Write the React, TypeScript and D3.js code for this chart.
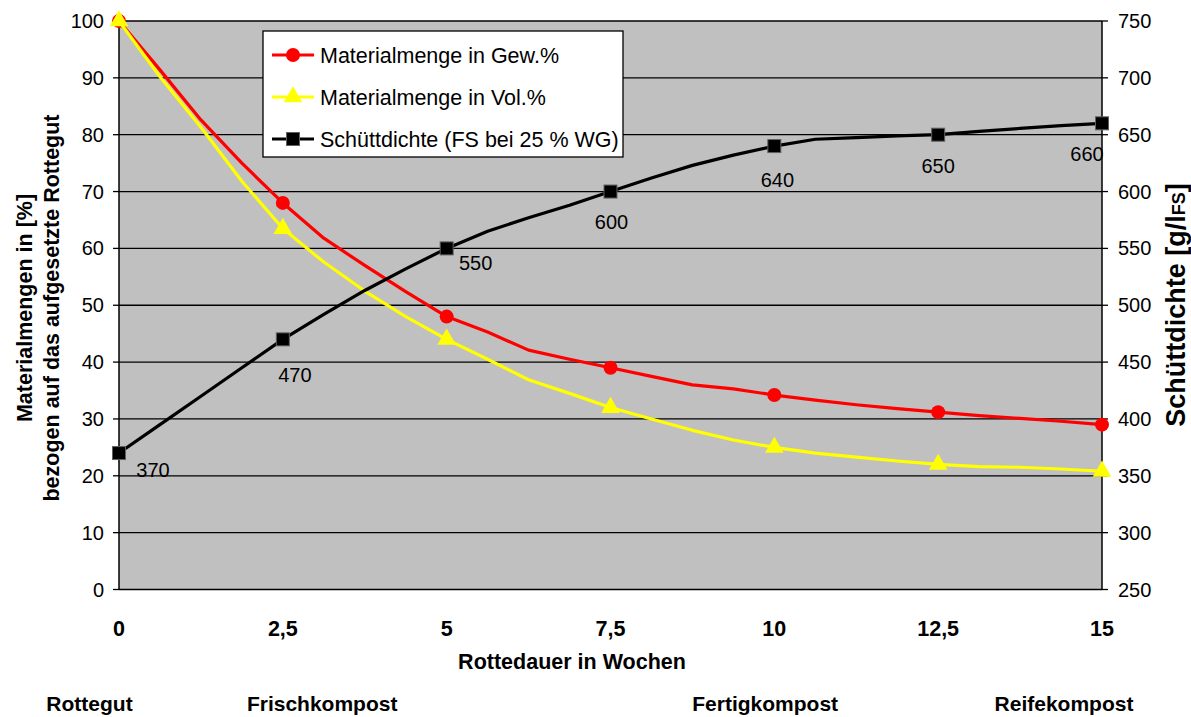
import React, { useEffect, useRef } from "react";
import * as d3 from "d3";

// Rotting time in weeks (measurement points)
const weeks = [0, 0.625, 1.25, 1.875, 2.5, 3.125, 3.75, 4.375, 5, 5.625, 6.25, 6.875, 7.5,
  8.125, 8.75, 9.375, 10, 10.625, 11.25, 11.875, 12.5, 13.125, 13.75, 14.375, 15];

// Material amount in weight-% of the initial rotting material
const gewPct = [100, 91.4, 82.6, 75, 68, 61.8, 57, 52.4, 48, 45.3, 42.1, 40.5, 39,
  37.5, 36, 35.3, 34.2, 33.3, 32.5, 31.8, 31.2, 30.6, 30.1, 29.6, 29];

// Material amount in volume-%
const volPct = [100, 90.2, 81.3, 71.8, 63.5, 57.6, 52.5, 48, 44, 40.5, 36.9, 34.5, 32,
  30, 28, 26.3, 25, 24, 23.3, 22.6, 22, 21.6, 21.5, 21.2, 20.8];

// Bulk density (g/l FS at 25 % water content)
const density = [370, 395, 420, 445, 470, 492, 513, 532, 550, 565, 577, 588, 600,
  612, 623, 632, 640, 646, 647.5, 649, 650, 653, 655.5, 658, 660];

// Weeks carrying a marker and a value label
const markerWeeks = [0, 2.5, 5, 7.5, 10, 12.5, 15];

const xTicks = [0, 2.5, 5, 7.5, 10, 12.5, 15];
const leftTicks = [0, 10, 20, 30, 40, 50, 60, 70, 80, 90, 100];
const rightTicks = [250, 300, 350, 400, 450, 500, 550, 600, 650, 700, 750];

const stages = [
  { label: "Rottegut", week: -0.45 },
  { label: "Frischkompost", week: 3.1 },
  { label: "Fertigkompost", week: 9.86 },
  { label: "Reifekompost", week: 14.42 },
];

const legendItems = [
  { name: "Materialmenge in Gew.%", key: "gew" },
  { name: "Materialmenge in Vol.%", key: "vol" },
  { name: "Schüttdichte (FS bei 25 % WG)", key: "dens" },
];

// label offsets for the density value labels (px, relative to the marker)
const densLabelOffsets = [
  [34, 17], [12, 36], [29, 15], [1, 30], [3, 34], [0, 31], [-15, 31],
];

const FONT = "'Liberation Sans', Arial, sans-serif";

export default function App() {
  const ref = useRef<SVGSVGElement>(null);

  useEffect(() => {
    const svg = d3.select(ref.current);
    svg.selectAll("*").remove();

    const left = 119, right = 1102, top = 21, bottom = 589.5;
    const x = d3.scaleLinear().domain([0, 15]).range([left, right]);
    const yL = d3.scaleLinear().domain([0, 100]).range([bottom, top]);
    const yR = d3.scaleLinear().domain([250, 750]).range([bottom, top]);

    // plot background
    svg.append("rect")
      .attr("x", left).attr("y", top)
      .attr("width", right - left).attr("height", bottom - top)
      .attr("fill", "#c0c0c0");

    // horizontal gridlines
    svg.append("g").selectAll("line").data(leftTicks.slice(1)).join("line")
      .attr("x1", left).attr("x2", right)
      .attr("y1", (d) => yL(d)).attr("y2", (d) => yL(d))
      .attr("stroke", "#000").attr("stroke-width", 1.3);

    // left axis
    const gL = svg.append("g");
    gL.append("line").attr("x1", left).attr("x2", left).attr("y1", top).attr("y2", bottom)
      .attr("stroke", "#000").attr("stroke-width", 1.5);
    gL.selectAll("line.t").data(leftTicks).join("line").attr("class", "t")
      .attr("x1", left - 6).attr("x2", left)
      .attr("y1", (d) => yL(d)).attr("y2", (d) => yL(d))
      .attr("stroke", "#000").attr("stroke-width", 1.3);
    gL.selectAll("text").data(leftTicks).join("text")
      .attr("x", left - 15).attr("y", (d) => yL(d))
      .attr("dy", "0.35em").attr("text-anchor", "end")
      .attr("font-family", FONT).attr("font-size", 20).attr("fill", "#000")
      .text((d) => d);

    // right axis
    const gR = svg.append("g");
    gR.append("line").attr("x1", right).attr("x2", right).attr("y1", top).attr("y2", bottom)
      .attr("stroke", "#000").attr("stroke-width", 1.5);
    gR.selectAll("line.t").data(rightTicks).join("line").attr("class", "t")
      .attr("x1", right).attr("x2", right + 6)
      .attr("y1", (d) => yR(d)).attr("y2", (d) => yR(d))
      .attr("stroke", "#000").attr("stroke-width", 1.3);
    gR.selectAll("text").data(rightTicks).join("text")
      .attr("x", right + 16).attr("y", (d) => yR(d))
      .attr("dy", "0.35em").attr("text-anchor", "start")
      .attr("font-family", FONT).attr("font-size", 20).attr("fill", "#000")
      .text((d) => d);

    // bottom axis
    svg.append("line").attr("x1", left).attr("x2", right).attr("y1", bottom).attr("y2", bottom)
      .attr("stroke", "#000").attr("stroke-width", 1.5);
    const fmt = (v: number) => String(v).replace(".", ",");
    svg.append("g").selectAll("text").data(xTicks).join("text")
      .attr("x", (d) => x(d)).attr("y", 636)
      .attr("text-anchor", "middle")
      .attr("font-family", FONT).attr("font-size", 21.5).attr("font-weight", "bold")
      .text((d) => fmt(d));

    svg.append("text").attr("x", 572).attr("y", 669).attr("text-anchor", "middle")
      .attr("font-family", FONT).attr("font-size", 21.5).attr("font-weight", "bold")
      .text("Rottedauer in Wochen");

    svg.append("g").selectAll("text").data(stages).join("text")
      .attr("x", (d) => x(d.week)).attr("y", 711).attr("text-anchor", "middle")
      .attr("font-family", FONT).attr("font-size", 21).attr("font-weight", "bold")
      .text((d) => d.label);

    // left axis title (two lines)
    const lt = svg.append("text")
      .attr("transform", "translate(32,308) rotate(-90)")
      .attr("text-anchor", "middle")
      .attr("font-family", FONT).attr("font-size", 21.5).attr("font-weight", "bold");
    lt.append("tspan").attr("x", 0).attr("y", 0).text("Materialmengen in [%]");
    lt.append("tspan").attr("x", 0).attr("y", 27).text("bezogen auf das aufgesetzte Rottegut");

    // right axis title
    const rt = svg.append("text")
      .attr("transform", "translate(1185,305) rotate(-90)")
      .attr("text-anchor", "middle")
      .attr("font-family", FONT).attr("font-size", 27).attr("font-weight", "bold");
    rt.append("tspan").text("Schüttdichte [g/l");
    rt.append("tspan").attr("font-size", 18).text("FS");
    rt.append("tspan").text("]");

    const line = (ys: number[], yScale: d3.ScaleLinear<number, number>) =>
      d3.line<number>().x((_, i) => x(weeks[i])).y((d) => yScale(d))(ys);

    const idx = markerWeeks.map((w) => weeks.indexOf(w));
    const tri = d3.symbol().type(d3.symbolTriangle).size(150);

    // red series: weight-%
    svg.append("path").attr("d", line(gewPct, yL)).attr("fill", "none")
      .attr("stroke", "#ff0000").attr("stroke-width", 3.2).attr("stroke-linejoin", "round");
    svg.append("g").selectAll("circle").data(idx).join("circle")
      .attr("cx", (i) => x(weeks[i])).attr("cy", (i) => yL(gewPct[i])).attr("r", 7)
      .attr("fill", "#ff0000");

    // yellow series: volume-%
    svg.append("path").attr("d", line(volPct, yL)).attr("fill", "none")
      .attr("stroke", "#ffff00").attr("stroke-width", 3.2).attr("stroke-linejoin", "round");
    svg.append("g").selectAll("path").data(idx).join("path")
      .attr("transform", (i) => `translate(${x(weeks[i])},${yL(volPct[i])})`)
      .attr("d", tri()).attr("fill", "#ffff00");

    // black series: bulk density
    svg.append("path").attr("d", line(density, yR)).attr("fill", "none")
      .attr("stroke", "#000").attr("stroke-width", 3.2).attr("stroke-linejoin", "round");
    svg.append("g").selectAll("rect").data(idx).join("rect")
      .attr("x", (i) => x(weeks[i]) - 6.5).attr("y", (i) => yR(density[i]) - 6.5)
      .attr("width", 13).attr("height", 13)
      .attr("fill", "#000").attr("stroke", "#606060").attr("stroke-width", 1);
    svg.append("g").selectAll("text").data(idx).join("text")
      .attr("x", (i, k) => x(weeks[i]) + densLabelOffsets[k][0])
      .attr("y", (i, k) => yR(density[i]) + densLabelOffsets[k][1])
      .attr("dy", "0.35em").attr("text-anchor", "middle")
      .attr("font-family", FONT).attr("font-size", 20).attr("fill", "#000")
      .text((i) => density[i]);

    // legend
    const lg = svg.append("g").attr("transform", "translate(263,31)");
    lg.append("rect").attr("width", 360).attr("height", 126)
      .attr("fill", "#fff").attr("stroke", "#000").attr("stroke-width", 1.3);
    legendItems.forEach((item, k) => {
      const cy = 24 + k * 42;
      const g = lg.append("g").attr("transform", `translate(0,${cy})`);
      const color = item.key === "gew" ? "#ff0000" : item.key === "vol" ? "#ffff00" : "#000";
      g.append("line").attr("x1", 9).attr("x2", 51).attr("stroke", color).attr("stroke-width", 3.2);
      if (item.key === "gew") g.append("circle").attr("cx", 30).attr("r", 7).attr("fill", color);
      if (item.key === "vol") g.append("path").attr("transform", "translate(30,0)").attr("d", tri()).attr("fill", color);
      if (item.key === "dens") g.append("rect").attr("x", 23.5).attr("y", -6.5).attr("width", 13).attr("height", 13)
        .attr("fill", "#000").attr("stroke", "#606060");
      g.append("text").attr("x", 57).attr("dy", "0.35em")
        .attr("font-family", FONT).attr("font-size", 21.5).text(item.name);
    });
  }, []);

  return (
    <svg ref={ref} width={1191} height={717}
      style={{ position: "absolute", left: 0, top: 0, background: "#fff" }} />
  );
}
